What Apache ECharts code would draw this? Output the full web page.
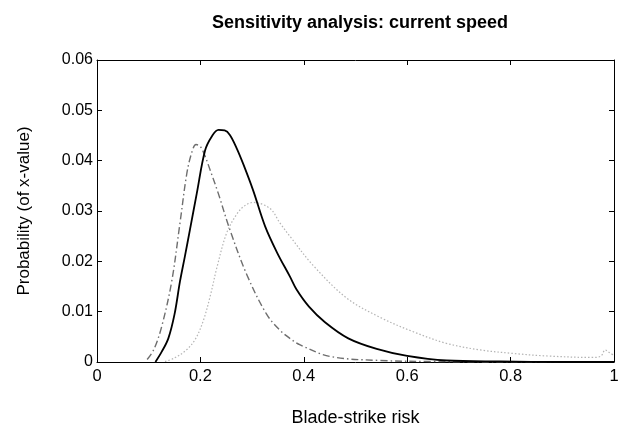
<!DOCTYPE html>
<html>
<head>
<meta charset="utf-8">
<script src="https://cdn.jsdelivr.net/npm/echarts@6/dist/echarts.min.js"></script>
<style>
html,body{margin:0;padding:0;background:#fff;}
#chart{width:625px;height:432px;}
</style>
</head>
<body>
<div id="chart"></div>
<script>
// Baseline (solid black)
var xSolid = [0.113, 0.125, 0.138, 0.15, 0.1605, 0.17, 0.18, 0.193, 0.209, 0.222, 0.235, 0.247, 0.257, 0.27, 0.283, 0.302, 0.325, 0.348, 0.373, 0.386, 0.41, 0.441, 0.486, 0.541, 0.6, 0.676, 0.78, 0.9, 1.0];
var ySolid = [0, 0.002, 0.0047, 0.0095, 0.016, 0.021, 0.0264, 0.0335, 0.042, 0.0448, 0.0461, 0.046, 0.0451, 0.0425, 0.0393, 0.0341, 0.027, 0.0218, 0.017, 0.0144, 0.011, 0.0079, 0.0047, 0.0026, 0.0012, 0.0003, 0.0001, 0, 0];
// Dash-dot (dark grey)
var xDashDot = [0.097, 0.11, 0.125, 0.1445, 0.1605, 0.1735, 0.183, 0.1915, 0.2, 0.209, 0.22, 0.2346, 0.257, 0.29, 0.328, 0.354, 0.373, 0.393, 0.451, 0.547, 0.65, 0.8, 1.0];
var yDashDot = [0.0005, 0.0025, 0.007, 0.016, 0.0276, 0.0373, 0.0415, 0.0432, 0.0428, 0.0409, 0.0378, 0.0335, 0.0263, 0.0173, 0.0095, 0.0063, 0.0047, 0.0034, 0.0011, 0.0003, 0.0001, 0, 0];
// Dotted (light grey)
var xDotted = [0.1315, 0.15, 0.173, 0.19, 0.2056, 0.22, 0.2315, 0.251, 0.27, 0.285, 0.302, 0.3346, 0.354, 0.373, 0.418, 0.483, 0.547, 0.612, 0.676, 0.741, 0.805, 0.87, 0.96, 0.975, 0.983, 0.992, 0.999];
var yDotted = [0.0001, 0.0008, 0.0024, 0.0045, 0.0082, 0.0135, 0.0186, 0.0257, 0.0293, 0.031, 0.0317, 0.0305, 0.0276, 0.025, 0.0192, 0.0127, 0.0089, 0.006, 0.0037, 0.0024, 0.0017, 0.0012, 0.0009, 0.0012, 0.0024, 0.0018, 0.0014];

var titleText = 'Sensitivity analysis: current speed';
var xName = 'Blade-strike risk';
var yName = 'Probability (of x-value)';

function pairs(xs, ys){ return xs.map(function(x,i){ return [x, ys[i]]; }); }

var FONT = 'Liberation Sans, Arial, sans-serif';
var axisBase = {
  type: 'value',
  axisLine: {show: true, onZero: false, lineStyle: {color: '#000', width: 1}},
  axisTick: {show: true, inside: true, length: 5, lineStyle: {color: '#000'}},
  splitLine: {show: false}
};

var chart = echarts.init(document.getElementById('chart'), null, {renderer: 'canvas'});
chart.setOption({
  backgroundColor: '#fff',
  animation: false,
  title: {
    text: titleText, left: 355, top: 9, textAlign: 'center',
    textStyle: {fontFamily: FONT, fontWeight: 'bold', fontSize: 18, color: '#000'}
  },
  grid: {left: 97, right: 11, top: 60, bottom: 63, containLabel: false},
  xAxis: [
    Object.assign({}, axisBase, {
      position: 'bottom', min: 0, max: 1, interval: 0.2,
      name: xName, nameLocation: 'middle', nameGap: 47,
      nameTextStyle: {fontFamily: FONT, fontSize: 18, color: '#000'},
      axisLabel: {fontFamily: FONT, fontSize: 16.5, color: '#000', margin: 6}
    }),
    Object.assign({}, axisBase, {
      position: 'top', min: 0, max: 1, interval: 0.2,
      axisLabel: {show: false}
    })
  ],
  yAxis: [
    Object.assign({}, axisBase, {
      position: 'left', min: 0, max: 0.06, interval: 0.01,
      name: yName, nameLocation: 'middle', nameGap: 64, nameRotate: 90,
      nameTextStyle: {fontFamily: FONT, fontSize: 17, color: '#000'},
      axisLabel: {fontFamily: FONT, fontSize: 16, color: '#000', margin: 4}
    }),
    Object.assign({}, axisBase, {
      position: 'right', min: 0, max: 0.06, interval: 0.01,
      axisLabel: {show: false}
    })
  ],
  series: [
    {
      type: 'line', xAxisIndex: 0, yAxisIndex: 0, data: pairs(xDotted, yDotted),
      showSymbol: false, smooth: 0.35, clip: true,
      lineStyle: {color: '#b4b4b4', width: 1.2, type: [1.5, 2]}
    },
    {
      type: 'line', xAxisIndex: 0, yAxisIndex: 0, data: pairs(xDashDot, yDashDot),
      showSymbol: false, smooth: 0.35, clip: true,
      lineStyle: {color: '#6e6e6e', width: 1.4, type: [7, 3, 1.5, 3]}
    },
    {
      type: 'line', xAxisIndex: 0, yAxisIndex: 0, data: pairs(xSolid, ySolid),
      showSymbol: false, smooth: 0.35, clip: true,
      lineStyle: {color: '#000', width: 1.8, type: 'solid'}
    }
  ]
});
</script>
</body>
</html>
